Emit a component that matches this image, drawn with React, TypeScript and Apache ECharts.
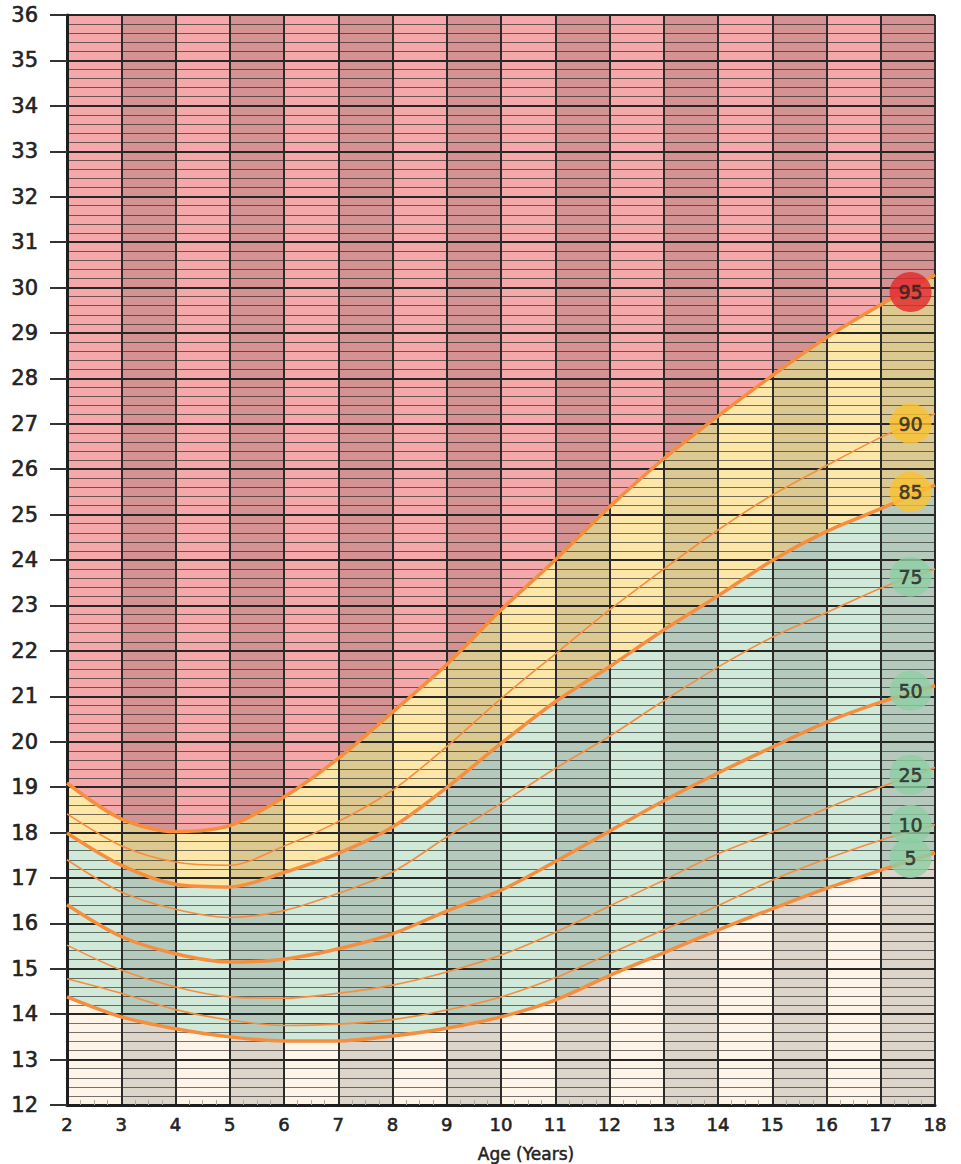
import React, { useEffect, useRef } from 'react';
import * as echarts from 'echarts';

// Age in years (x axis ticks)
const ages = [2, 3, 4, 5, 6, 7, 8, 9, 10, 11, 12, 13, 14, 15, 16, 17, 18];

// BMI percentile curves, one value per age
const p95 = [19.09, 18.3, 18.02, 18.15, 18.78, 19.63, 20.65, 21.7, 22.9, 24.0, 25.17, 26.23, 27.17, 28.06, 28.9, 29.62, 30.28];
const p90 = [18.41, 17.71, 17.35, 17.28, 17.7, 18.24, 18.93, 19.89, 20.95, 21.93, 22.9, 23.8, 24.66, 25.43, 26.08, 26.7, 27.22];
const p85 = [17.99, 17.28, 16.86, 16.8, 17.12, 17.54, 18.12, 18.99, 19.96, 20.88, 21.65, 22.46, 23.21, 23.99, 24.63, 25.13, 25.65];
const p75 = [17.4, 16.69, 16.31, 16.13, 16.28, 16.66, 17.13, 17.9, 18.64, 19.41, 20.12, 20.9, 21.64, 22.3, 22.84, 23.38, 23.8];
const p50 = [16.41, 15.71, 15.33, 15.15, 15.21, 15.44, 15.77, 16.27, 16.73, 17.36, 18.03, 18.7, 19.31, 19.88, 20.43, 20.87, 21.23];
const p25 = [15.52, 14.97, 14.6, 14.38, 14.35, 14.46, 14.64, 14.93, 15.3, 15.8, 16.38, 16.95, 17.53, 18.01, 18.53, 19.0, 19.43];
const p10 = [14.78, 14.46, 14.1, 13.87, 13.75, 13.78, 13.88, 14.09, 14.38, 14.8, 15.33, 15.86, 16.39, 16.95, 17.42, 17.83, 18.17];
const p5 = [14.38, 13.94, 13.68, 13.5, 13.41, 13.41, 13.52, 13.69, 13.94, 14.31, 14.85, 15.35, 15.85, 16.32, 16.77, 17.17, 17.55];

// Percentile badges at the right end
const badgeNames = ['95', '90', '85', '75', '50', '25', '10', '5'];
const badgeAge = 17.55;
const badgeBmi = [29.9, 27.0, 25.5, 23.63, 21.12, 19.27, 18.17, 17.44];

// Darker year columns
const darkColumns = [3, 5, 7, 9, 11, 13, 15, 17];

const FONT = '"DejaVu Sans", sans-serif';
const ORANGE = '#f68e3e';
const INK = '#232323';
const EMBOLDEN = { textBorderColor: INK, textBorderWidth: 0.6 };

const pts = (vals: number[]) => ages.map((a, i) => [a, vals[i]]);

const fill = (vals: number[], color: string) => ({
  type: 'line',
  data: pts(vals),
  smooth: 0.3,
  symbol: 'none',
  silent: true,
  z: 1,
  lineStyle: { width: 0 },
  areaStyle: { color, opacity: 1, origin: 'start' },
});

const curve = (vals: number[], width: number) => ({
  type: 'line',
  data: pts(vals),
  smooth: 0.3,
  symbol: 'none',
  silent: true,
  z: 5,
  lineStyle: { color: ORANGE, width },
});

const badgeColor = (n: string) =>
  n === '95' ? '#e3282a' : n === '90' || n === '85' ? '#fbc22f' : '#8dcea3';

export default function App() {
  const ref = useRef<HTMLDivElement>(null);
  useEffect(() => {
    const chart = echarts.init(ref.current!, null, { renderer: 'svg' });
    chart.setOption({
      animation: false,
      backgroundColor: '#ffffff',
      grid: {
        left: 67,
        top: 15,
        width: 868,
        height: 1090,
        show: true,
        backgroundColor: '#f4a8a9',
        borderWidth: 0,
      },
      xAxis: {
        type: 'value',
        min: 2,
        max: 18,
        interval: 1,
        z: 3,
        axisLine: { show: true, onZero: false, lineStyle: { color: '#1e1e1e', width: 3 } },
        axisTick: { show: false, inside: true },
        minorTick: { show: true, splitNumber: 4, length: 5, lineStyle: { color: '#b3aca4', width: 1 } },
        splitLine: { show: true, lineStyle: { color: '#2a2a2a', width: 2 } },
        axisLabel: { color: INK, fontSize: 18, fontFamily: FONT, margin: 10, ...EMBOLDEN },
      },
      yAxis: {
        type: 'value',
        min: 12,
        max: 36,
        interval: 1,
        z: 3,
        axisLine: { show: true, onZero: false, lineStyle: { color: '#1e1e1e', width: 3 } },
        axisTick: { show: true, length: 17, lineStyle: { color: '#333', width: 2 } },
        minorTick: { show: false, splitNumber: 5 },
        minorSplitLine: { show: true, lineStyle: { color: 'rgba(25,25,25,0.6)', width: 1 } },
        splitLine: { show: true, lineStyle: { color: '#262626', width: 2 } },
        axisLabel: { color: INK, fontSize: 21, fontFamily: FONT, margin: 29, ...EMBOLDEN },
      },
      graphic: [
        {
          type: 'text',
          x: 526,
          y: 1154,
          style: {
            text: 'Age (Years)',
            align: 'center',
            verticalAlign: 'middle',
            fontSize: 17,
            fontFamily: FONT,
            fill: INK,
            stroke: INK,
            lineWidth: 0.5,
          },
        },
      ],
      series: [
        fill(p95, '#fde7a8'),
        fill(p85, '#d0e9d9'),
        fill(p5, '#fef4e8'),
        {
          type: 'line',
          data: [[2, 12], [18, 12]],
          symbol: 'none',
          silent: true,
          z: 2,
          lineStyle: { opacity: 0 },
          markArea: {
            silent: true,
            z: 2,
            itemStyle: { color: 'rgba(0,0,0,0.13)' },
            data: darkColumns.map((c) => [{ xAxis: c }, { xAxis: c + 1 }]),
          },
        },
        curve(p95, 3.5),
        curve(p90, 1.6),
        curve(p85, 3.5),
        curve(p75, 1.6),
        curve(p50, 3.5),
        curve(p25, 1.6),
        curve(p10, 1.6),
        curve(p5, 3.5),
        {
          type: 'scatter',
          z: 6,
          silent: true,
          symbol: 'circle',
          symbolSize: [42, 40],
          data: badgeNames.map((n, i) => ({
            value: [badgeAge, badgeBmi[i]],
            name: n,
            itemStyle: { color: badgeColor(n) },
          })),
          label: {
            show: true,
            position: 'inside',
            formatter: (p: any) => p.name,
            color: INK,
            fontSize: 19,
            fontFamily: FONT,
            ...EMBOLDEN,
          },
        },
      ],
    });
    return () => chart.dispose();
  }, []);
  return (
    <div
      ref={ref}
      style={{ position: 'fixed', left: 0, top: 0, width: 961, height: 1164, background: '#fff' }}
    />
  );
}
